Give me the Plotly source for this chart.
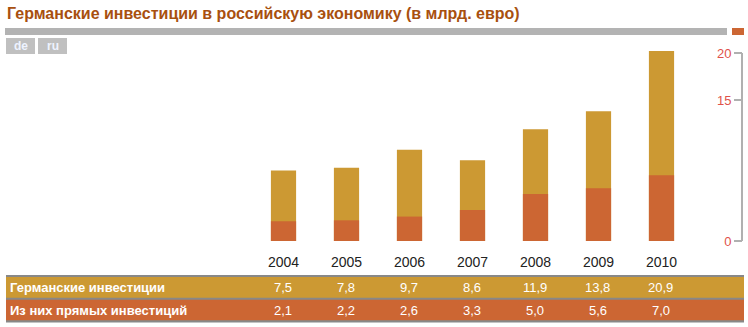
import plotly.graph_objects as go

years = ["2004", "2005", "2006", "2007", "2008", "2009", "2010"]
total_inv = [7.5, 7.8, 9.7, 8.6, 11.9, 13.8, 20.9]
direct_inv = [2.1, 2.2, 2.6, 3.3, 5.0, 5.6, 7.0]
total_txt = ["7,5", "7,8", "9,7", "8,6", "11,9", "13,8", "20,9"]
direct_txt = ["2,1", "2,2", "2,6", "3,3", "5,0", "5,6", "7,0"]
row_labels = ["Германские инвестиции", "Из них прямых инвестиций"]
y_ticks = [0, 15, 20]
title = "Германские инвестиции в российскую экономику (в млрд. евро)"

GOLD = "#CC9933"
ORANGE = "#CC6633"
W, H = 748, 327

def px(x):
    return x / W

def py(y):
    return 1 - y / H

fig = go.Figure()
fig.add_trace(go.Bar(x=list(range(len(years))), y=total_inv, marker=dict(color=GOLD, line=dict(width=0)),
                     width=0.4, hoverinfo="skip"))
fig.add_trace(go.Bar(x=list(range(len(years))), y=direct_inv, marker=dict(color=ORANGE, line=dict(width=0)),
                     width=0.4, hoverinfo="skip"))

shapes = []
shapes.append(dict(type="rect", xref="paper", yref="paper", x0=px(5), x1=px(727), y0=py(35), y1=py(28),
                   fillcolor="#B3B3B3", line=dict(width=0)))
shapes.append(dict(type="rect", xref="paper", yref="paper", x0=px(732), x1=px(744), y0=py(35), y1=py(28),
                   fillcolor=ORANGE, line=dict(width=0)))
shapes.append(dict(type="rect", xref="paper", yref="paper", x0=px(6), x1=px(35), y0=py(54), y1=py(38),
                   fillcolor="#C0C0C0", line=dict(width=0)))
shapes.append(dict(type="rect", xref="paper", yref="paper", x0=px(38), x1=px(67), y0=py(54), y1=py(38),
                   fillcolor="#C0C0C0", line=dict(width=0)))
shapes.append(dict(type="rect", xref="paper", yref="paper", x0=px(6), x1=px(744), y0=py(322.5), y1=py(275),
                   fillcolor="#888888", line=dict(width=0)))
shapes.append(dict(type="rect", xref="paper", yref="paper", x0=px(6), x1=px(744), y0=py(297.7), y1=py(277),
                   fillcolor=GOLD, line=dict(width=0)))
shapes.append(dict(type="rect", xref="paper", yref="paper", x0=px(6), x1=px(744), y0=py(320.3), y1=py(299.7),
                   fillcolor=ORANGE, line=dict(width=0)))
shapes.append(dict(type="line", xref="paper", yref="y", x0=px(742), x1=px(742), y0=0, y1=20,
                   line=dict(color="#B0B0B0", width=2)))

FONT = "Liberation Sans, Arial"
annotations = []
annotations.append(dict(text=title, xref="paper", yref="paper", x=px(5), y=py(13), xanchor="left",
                        yanchor="middle", showarrow=False,
                        font=dict(family=FONT, size=16, color="#A8500F", weight="bold")))
annotations.append(dict(text="de", xref="paper", yref="paper", x=px(20.5), y=py(46), showarrow=False,
                        xanchor="center", yanchor="middle",
                        font=dict(family=FONT, size=12, color="#EEF3FF", weight="bold")))
annotations.append(dict(text="ru", xref="paper", yref="paper", x=px(52.5), y=py(46), showarrow=False,
                        xanchor="center", yanchor="middle",
                        font=dict(family=FONT, size=12, color="#EEF3FF", weight="bold")))
for lab, yy in zip(row_labels, [287.5, 310]):
    annotations.append(dict(text=lab, xref="paper", yref="paper", x=px(8), y=py(yy), showarrow=False,
                            xanchor="left", yanchor="middle",
                            font=dict(family=FONT, size=13, color="white", weight="bold")))
for i, (t1, t2) in enumerate(zip(total_txt, direct_txt)):
    annotations.append(dict(text=t1, xref="x", yref="paper", x=i, y=py(287.5), showarrow=False,
                            xanchor="center", yanchor="middle", xshift=-1,
                            font=dict(family=FONT, size=13, color="white")))
    annotations.append(dict(text=t2, xref="x", yref="paper", x=i, y=py(310), showarrow=False,
                            xanchor="center", yanchor="middle", xshift=-1,
                            font=dict(family=FONT, size=13, color="white")))

x0 = 283.5 - 0.5 * 63
x1 = 283.5 + 6.5 * 63
fig.update_layout(
    width=W, height=H,
    margin=dict(l=0, r=0, t=0, b=0, pad=0, autoexpand=False),
    paper_bgcolor="white", plot_bgcolor="white",
    barmode="overlay", showlegend=False,
    shapes=shapes, annotations=annotations,
    xaxis=dict(domain=[px(x0), px(x1)], range=[-0.5, 6.5], automargin=False,
               tickvals=list(range(len(years))), ticktext=years,
               showgrid=False, zeroline=False, showline=False,
               ticks="outside", ticklen=8, tickcolor="rgba(0,0,0,0)",
               tickfont=dict(family=FONT, size=14, color="#222222")),
    yaxis=dict(domain=[py(241), py(51.1)], range=[0, 20.2], anchor="free", position=px(742),
               side="left", showgrid=False, zeroline=False, showline=False, automargin=False,
               tickvals=y_ticks, ticks="outside", ticklen=8, tickwidth=2, tickcolor="#B0B0B0",
               tickfont=dict(family=FONT, size=13, color="#E0524A")),
)
fig.write_html("out.html")
